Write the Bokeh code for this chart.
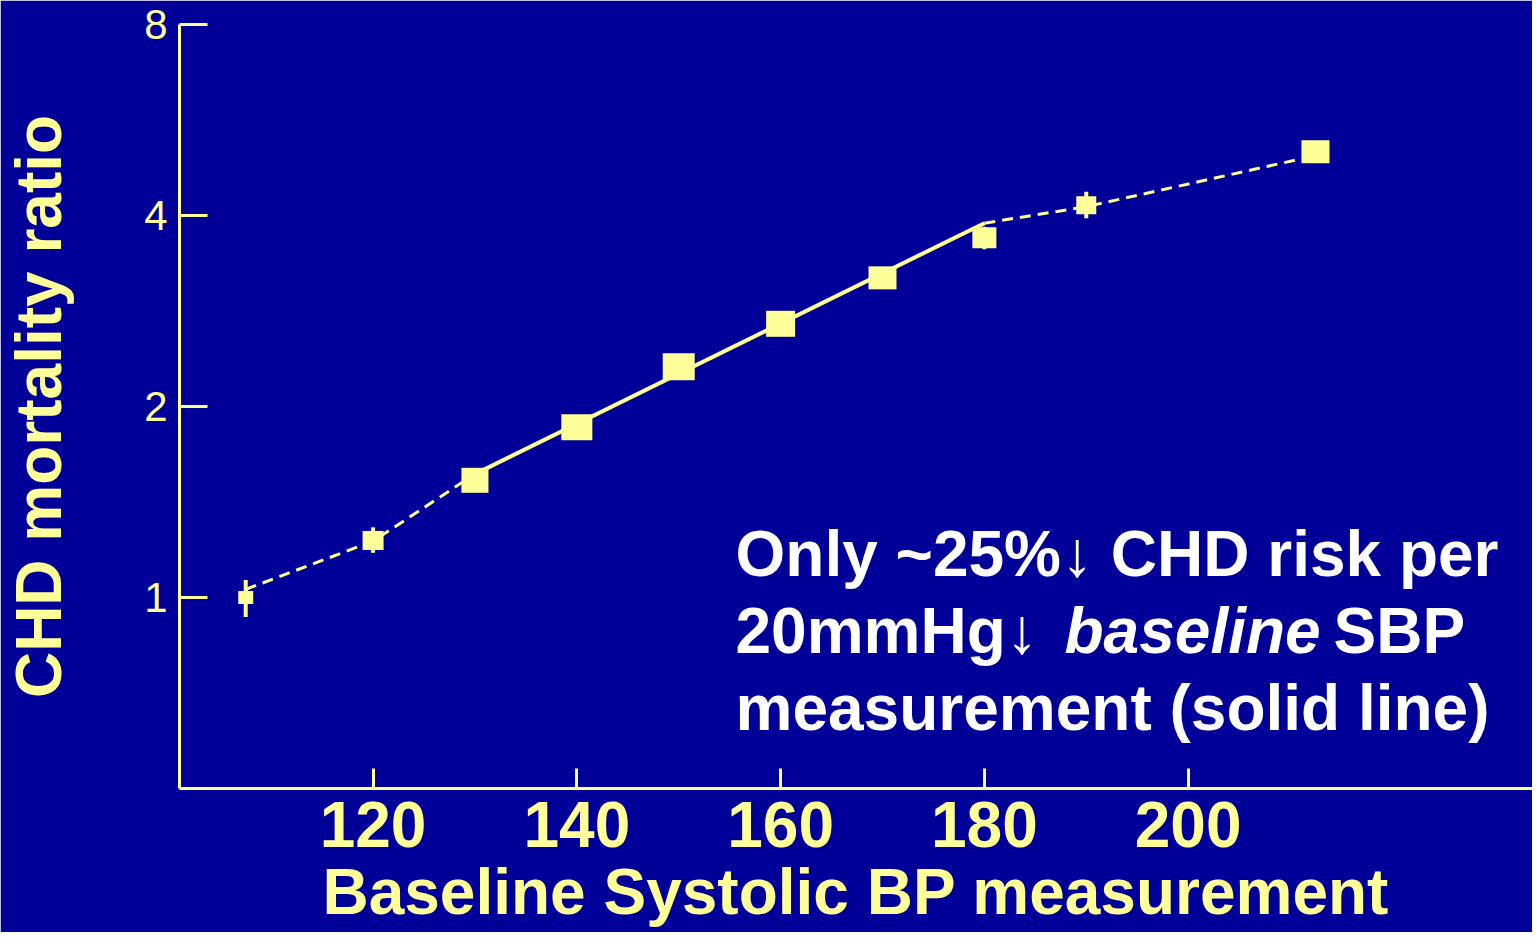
from bokeh.plotting import figure
from bokeh.models import FixedTicker, Label, Range1d, ColumnDataSource, BasicTickFormatter
from bokeh.embed import file_html
from bokeh.resources import INLINE

# ---- data ----
sbp_groups = [107.5, 120, 130, 140, 150, 160, 170, 180, 190, 212.5]
mortality_ratio = [1.0, 1.23, 1.53, 1.855, 2.31, 2.70, 3.19, 3.69, 4.15, 5.04]
ci_low = [0.932, 1.176, 1.47, 1.80, 2.25, 2.62, 3.08, 3.54, 3.96, 4.88]
ci_high = [1.066, 1.29, 1.60, 1.91, 2.37, 2.78, 3.30, 3.84, 4.36, 5.20]

low_dash_x = [107.5, 120, 130]
low_dash_y = [1.03, 1.227, 1.565]
solid_x = [130, 180]
solid_y = [1.565, 3.89]
high_dash_x = [180, 190, 212.5]
high_dash_y = [3.89, 4.13, 4.97]

x_ticks = [120, 140, 160, 180, 200]
y_ticks = [1, 2, 4, 8]

# ---- styles ----
box_w = [15, 21, 27, 31, 32, 29, 28, 24, 20, 28]
box_h = [13, 19, 25, 26, 27, 26, 23, 21, 18, 23]

BG = "#000099"
YEL = "#FFFF99"
FONT = "Liberation Sans"

p = figure(width=1532, height=932,
           x_range=Range1d(101.0, 233.8), y_range=Range1d(0.5, 8),
           y_axis_type="log", output_backend="svg", toolbar_location=None,
           background_fill_color=BG, border_fill_color=BG,
           min_border_left=179, min_border_right=0, min_border_top=24, min_border_bottom=144)
p.grid.visible = False
# frame outline in the background colour hides the seam between frame and border fills
p.outline_line_color = BG
p.outline_line_width = 2

xa = p.xaxis[0]
xa.ticker = FixedTicker(ticks=x_ticks)
xa.axis_line_color = YEL
xa.axis_line_width = 3
xa.major_tick_line_color = YEL
xa.major_tick_line_width = 3
xa.major_tick_in = 20
xa.major_tick_out = 0
xa.minor_tick_line_color = None
xa.major_label_text_font = FONT
xa.major_label_text_font_size = "64px"
xa.major_label_text_font_style = "bold"
xa.major_label_text_color = YEL
xa.major_label_standoff = 13
xa.axis_label = "Baseline Systolic BP measurement"
xa.axis_label_text_font = FONT
xa.axis_label_text_font_size = "64px"
xa.axis_label_text_font_style = "bold"
xa.axis_label_text_color = YEL
xa.axis_label_standoff = 6

ya = p.yaxis[0]
ya.ticker = FixedTicker(ticks=y_ticks)
ya.formatter = BasicTickFormatter()
ya.axis_line_color = YEL
ya.axis_line_width = 3
ya.major_tick_line_color = YEL
ya.major_tick_line_width = 3
ya.major_tick_in = 28
ya.major_tick_out = 0
ya.minor_tick_line_color = None
ya.major_label_text_font = FONT
ya.major_label_text_font_size = "42px"
ya.major_label_text_font_style = "normal"
ya.major_label_text_color = YEL
ya.major_label_standoff = 12
ya.axis_label = "CHD mortality ratio"
ya.axis_label_text_font = FONT
ya.axis_label_text_font_size = "64px"
ya.axis_label_text_font_style = "bold"
ya.axis_label_text_color = YEL
ya.axis_label_standoff = 66

# fitted lines
p.line(low_dash_x, low_dash_y, line_color=YEL, line_width=3, line_dash="11 7")
p.line(solid_x, solid_y, line_color=YEL, line_width=4)
p.line(high_dash_x, high_dash_y, line_color=YEL, line_width=3, line_dash="11 7")

src = ColumnDataSource(dict(x=sbp_groups, y=mortality_ratio, lo=ci_low, hi=ci_high, w=box_w, h=box_h))
p.segment(x0="x", y0="lo", x1="x", y1="hi", source=src, line_color=YEL, line_width=4)
p.rect(x="x", y="y", width="w", height="h", width_units="screen", height_units="screen",
       source=src, fill_color=YEL, line_color=None)

# annotation text
def lab(text, x, y, style="bold"):
    p.add_layout(Label(x=x, y=y, x_units="screen", y_units="screen", text=text,
                       text_font=FONT, text_font_size="64px", text_font_style=style,
                       text_color="white", text_align="left", text_baseline="alphabetic"))

lab("Only ~25%\u2193 CHD risk per", 556, 235)
lab("20mmHg\u2193", 556, 158)
lab("baseline", 885, 158, "bold italic")
lab("SBP", 1154, 158)
lab("measurement (solid line)", 556, 81)

open("out.html", "w").write(file_html(p, INLINE))
